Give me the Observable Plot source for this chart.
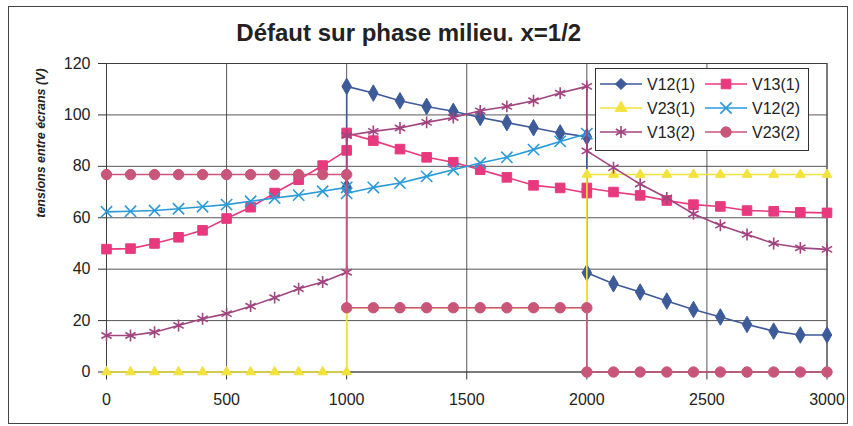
<!DOCTYPE html>
<html>
<head>
<meta charset="utf-8">
<script src="https://cdn.jsdelivr.net/npm/d3@7"></script>
<script src="https://cdn.jsdelivr.net/npm/@observablehq/plot@0.6"></script>
<style>
  html, body { margin: 0; padding: 0; background: #fff; }
  #wrap { position: relative; width: 853px; height: 426px; overflow: hidden; font-family: "Liberation Sans", Arial, sans-serif; }
  #border { position: absolute; left: 8px; top: 6px; width: 840px; height: 418px; box-sizing: border-box; border: 1px solid #444; }
  #chart { position: absolute; left: 0; top: 0; }
  #legend { position: absolute; left: 0; top: 0; }
</style>
</head>
<body>
<div id="wrap">
  <div id="border"></div>
  <div id="chart"></div>
  <svg id="legend" width="853" height="426"></svg>
</div>
<script>
const chartTitle = "Défaut sur phase milieu. x=1/2";
const yTitle = "tensions entre écrans (V)";
const xTicks = [0, 500, 1000, 1500, 2000, 2500, 3000];
const yTicks = [0, 20, 40, 60, 80, 100, 120];
const seriesNames = ["V12(1)", "V13(1)", "V23(1)", "V12(2)", "V13(2)", "V23(2)"];

// positions along the line (three sections)
const xPos = [0, 100, 200, 300, 400, 500, 600, 700, 800, 900, 1000,
  1000, 1111, 1222, 1333, 1444, 1556, 1667, 1778, 1889, 2000,
  2000, 2111, 2222, 2333, 2444, 2556, 2667, 2778, 2889, 3000];

const v12_1 = [null, null, null, null, null, null, null, null, null, null, 71.8,
  111.1, 108.5, 105.5, 103.3, 101.4, 99, 97, 95, 93, 91.5,
  38.6, 34.3, 31.1, 27.6, 24.3, 21.4, 18.5, 15.9, 14.4, 14.4];
const v13_1 = [47.8, 48, 50, 52.4, 55.1, 59.7, 64.1, 69.6, 74.8, 80.3, 86.2,
  93, 90, 86.7, 83.5, 81.6, 78.7, 75.7, 72.6, 71.6, 69.6,
  71.6, 70, 68.7, 66.7, 65.1, 64.4, 62.8, 62.5, 62.1, 61.9];
const v23_1 = [0, 0, 0, 0, 0, 0, 0, 0, 0, 0, 0,
  25, 25, 25, 25, 25, 25, 25, 25, 25, 25,
  76.8, 76.8, 76.8, 76.8, 76.8, 76.8, 76.8, 76.8, 76.8, 76.8];
const v12_2 = [62.3, 62.5, 62.8, 63.5, 64.3, 65.1, 66.4, 67.7, 68.8, 70.3, 71.8,
  69.5, 71.8, 73.5, 76.1, 78.7, 81.3, 83.5, 86.5, 89.7, 92.7,
  null, null, null, null, null, null, null, null, null, null];
const v13_2 = [14.2, 14.2, 15.5, 18.1, 20.7, 22.7, 25.6, 28.9, 32.4, 35, 38.8,
  92, 93.6, 94.9, 97.1, 99, 101.6, 103.3, 105.5, 108.5, 111.1,
  86, 79.5, 73.1, 67.7, 61.5, 57.1, 53.5, 50, 48.3, 47.7];
const v23_2 = [76.8, 76.8, 76.8, 76.8, 76.8, 76.8, 76.8, 76.8, 76.8, 76.8, 76.8,
  25, 25, 25, 25, 25, 25, 25, 25, 25, 25,
  0, 0, 0, 0, 0, 0, 0, 0, 0, 0];

const seriesValues = [v12_1, v13_1, v23_1, v12_2, v13_2, v23_2];
const colors = ["#3d5a99", "#e8397f", "#f3e23c", "#2b9bd8", "#a1447f", "#c9567a"];
const symbols = ["diamond", "square", "triangle", "times", "asterisk", "circle"];
const radii = [5, 5.4, 3.6, 5.2, 5.6, 5.2];
const filled = [true, true, true, false, false, true];

const rows = [];
seriesNames.forEach((name, s) => {
  seriesValues[s].forEach((v, i) => rows.push({series: name, x: xPos[i], y: v}));
});

const seriesMarks = seriesNames.flatMap((name, s) => {
  const data = rows.filter(d => d.series === name);
  return [
    Plot.line(data, {x: "x", y: "y", stroke: colors[s], strokeWidth: 1.6}),
    Plot.dot(data.filter(d => d.y != null), {
      x: "x", y: "y", symbol: () => symbols[s], r: radii[s],
      fill: filled[s] ? colors[s] : "none", stroke: colors[s],
      strokeWidth: filled[s] ? 1 : 1.6
    })
  ];
});

const chart = Plot.plot({
  width: 853,
  height: 426,
  marginLeft: 106,
  marginRight: 26.5,
  marginTop: 63,
  marginBottom: 54.5,
  style: {fontFamily: "'Liberation Sans', Arial, sans-serif", fontSize: "16px", color: "#222", background: "transparent"},
  x: {domain: [0, 3000], label: null},
  y: {domain: [0, 120], label: null},
  symbol: {type: "identity"},
  marks: [
    Plot.gridY(yTicks, {stroke: "#3a3a3a", strokeOpacity: 0.85}),
    Plot.gridX(xTicks, {stroke: "#3a3a3a", strokeOpacity: 0.85}),
    Plot.axisY(yTicks, {tickSize: 8, tickPadding: 8, fontSize: 16, label: null, tickFormat: d => String(d), stroke: "#333"}),
    Plot.axisX(xTicks, {tickSize: 8, tickPadding: 14, fontSize: 16, label: null, tickFormat: d => String(d), stroke: "#333"}),
    Plot.frame({stroke: "#3a3a3a", strokeOpacity: 0.85}),
    ...seriesMarks,
    Plot.text([chartTitle], {frameAnchor: "top", lineAnchor: "middle", dx: -58, dy: -30, fontWeight: "bold", fontSize: 24, fill: "#222"}),
    Plot.text([yTitle], {frameAnchor: "left", dx: -66, rotate: -90, fontStyle: "italic", fontWeight: "bold", fontSize: 12.5, fill: "#222"})
  ]
});
document.getElementById("chart").appendChild(chart);

// legend box
const lg = d3.select("#legend");
const boxX = 595, boxY = 68, boxW = 213, boxH = 82;
lg.append("rect").attr("x", boxX + 0.5).attr("y", boxY + 0.5).attr("width", boxW).attr("height", boxH)
  .attr("fill", "#fff").attr("stroke", "#333").attr("stroke-width", 1);
const rowsY = [84, 108, 132];
const colsX = [600, 705];
const legendRadii = [5, 5.4, 4.4, 5.2, 5.6, 5.2];
seriesNames.forEach((name, s) => {
  const r = Math.floor(s / 2), c = s % 2;
  const x0 = colsX[c], y0 = rowsY[r];
  lg.append("line").attr("x1", x0).attr("x2", x0 + 42).attr("y1", y0).attr("y2", y0)
    .attr("stroke", colors[s]).attr("stroke-width", 1.6);
  const sym = {diamond: d3.symbolDiamond2, square: d3.symbolSquare, triangle: d3.symbolTriangle,
    times: d3.symbolTimes, asterisk: d3.symbolAsterisk, circle: d3.symbolCircle}[symbols[s]];
  lg.append("path").attr("d", d3.symbol(sym, Math.PI * legendRadii[s] * legendRadii[s])())
    .attr("transform", `translate(${x0 + 21},${y0})`)
    .attr("fill", filled[s] ? colors[s] : "none").attr("stroke", colors[s])
    .attr("stroke-width", filled[s] ? 1 : 1.6);
  lg.append("text").attr("x", x0 + 47).attr("y", y0).attr("dy", "0.35em")
    .attr("font-family", "'Liberation Sans', Arial, sans-serif").attr("font-size", 16)
    .attr("fill", "#222").text(name);
});
</script>
</body>
</html>
